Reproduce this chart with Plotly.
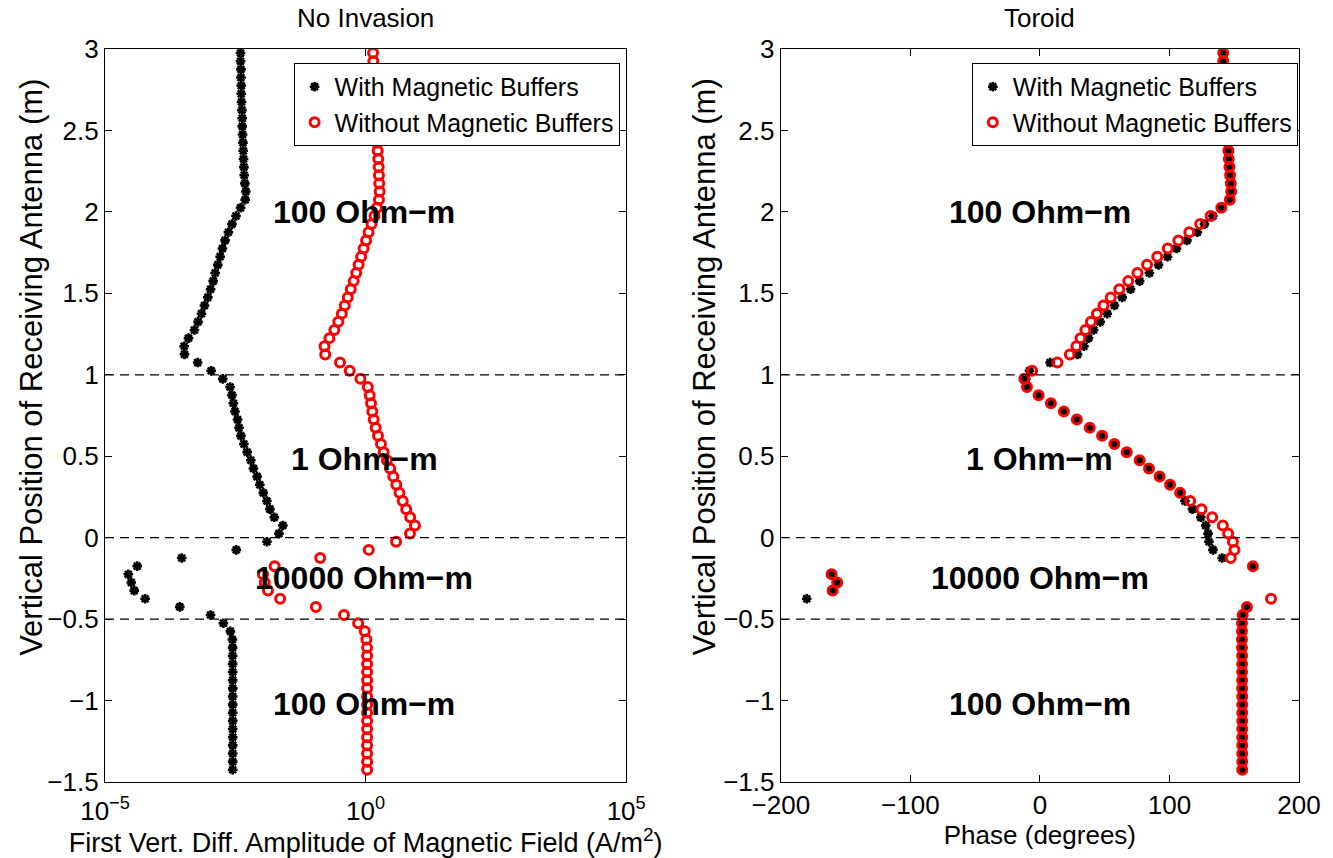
import plotly.graph_objects as go

# Receiver positions (m), top to bottom, 0.05 m sampling
depth = [2.975, 2.925, 2.875, 2.825, 2.775, 2.725, 2.675, 2.625, 2.575, 2.525,
         2.475, 2.425, 2.375, 2.325, 2.275, 2.225, 2.175, 2.125, 2.075, 2.025,
         1.975, 1.925, 1.875, 1.825, 1.775, 1.725, 1.675, 1.625, 1.575, 1.525,
         1.475, 1.425, 1.375, 1.325, 1.275, 1.225, 1.175, 1.125, 1.075, 1.025,
         0.975, 0.925, 0.875, 0.825, 0.775, 0.725, 0.675, 0.625, 0.575, 0.525,
         0.475, 0.425, 0.375, 0.325, 0.275, 0.225, 0.175, 0.125, 0.075, 0.025,
         -0.025, -0.075, -0.125, -0.175, -0.225, -0.275, -0.325, -0.375, -0.425, -0.475,
         -0.525, -0.575, -0.625, -0.675, -0.725, -0.775, -0.825, -0.875, -0.925, -0.975,
         -1.025, -1.075, -1.125, -1.175, -1.225, -1.275, -1.325, -1.375, -1.425]

# First vertical difference amplitude (A/m^2)
amp_with = [3.99e-3, 3.99e-3, 4.06e-3, 4.06e-3, 4.11e-3, 4.11e-3, 4.17e-3, 4.24e-3, 4.30e-3, 4.30e-3,
            4.36e-3, 4.43e-3, 4.49e-3, 4.55e-3, 4.62e-3, 4.69e-3, 4.83e-3, 5.05e-3, 4.90e-3, 3.99e-3,
            3.26e-3, 2.73e-3, 2.33e-3, 2.01e-3, 1.79e-3, 1.62e-3, 1.46e-3, 1.30e-3, 1.19e-3, 1.06e-3,
            9.4e-4, 8.1e-4, 7.1e-4, 6.1e-4, 5.2e-4, 4.0e-4, 3.3e-4, 3.35e-4, 6.0e-4, 1.09e-3,
            1.82e-3, 2.51e-3, 2.73e-3, 2.90e-3, 3.12e-3, 3.50e-3, 3.72e-3, 4.06e-3, 4.62e-3, 5.35e-3,
            6.28e-3, 7.05e-3, 8.28e-3, 9.33e-3, 1.09e-2, 1.28e-2, 1.46e-2, 1.77e-2, 2.59e-2, 2.17e-2,
            1.28e-2, 3.30e-3, 2.97e-4, 4.15e-5, 2.80e-5, 3.19e-5, 3.64e-5, 5.89e-5, 2.72e-4, 1.06e-3,
            1.87e-3, 2.54e-3, 2.78e-3, 2.81e-3, 2.81e-3, 2.81e-3, 2.82e-3, 2.82e-3, 2.82e-3, 2.82e-3,
            2.82e-3, 2.82e-3, 2.82e-3, 2.82e-3, 2.82e-3, 2.82e-3, 2.82e-3, 2.82e-3, 2.82e-3]

amp_without = [1.389, 1.407, 1.432, 1.451, 1.476, 1.503, 1.522, 1.542, 1.563, 1.584,
               1.605, 1.654, 1.706, 1.751, 1.782, 1.805, 1.829, 1.862, 1.805, 1.654,
               1.483, 1.300, 1.140, 1.022, 0.916, 0.821, 0.736, 0.660, 0.591, 0.519,
               0.455, 0.399, 0.350, 0.300, 0.252, 0.202, 0.163, 0.168, 0.323, 0.496,
               0.796, 1.101, 1.202, 1.272, 1.347, 1.432, 1.563, 1.729, 1.971, 2.218,
               2.563, 2.961, 3.406, 3.882, 4.467, 5.16, 6.02, 7.17, 8.85, 7.11,
               3.85, 1.150, 0.1346, 0.01798, 0.01077, 0.01161, 0.01340, 0.02297, 0.1111, 0.385,
               0.720, 0.966, 1.035, 1.068, 1.068, 1.068, 1.068, 1.068, 1.068, 1.068,
               1.068, 1.068, 1.068, 1.068, 1.068, 1.068, 1.068, 1.068, 1.068]

# Toroid phase (degrees)
phase_with = [141.5, 141.5, 141.8, 142.2, 142.6, 143.0, 143.4, 143.8, 144.2, 144.6,
              145.0, 145.3, 145.5, 145.8, 146.3, 146.8, 147.3, 147.6, 146.6, 140.0,
              133.5, 127.0, 121.5, 113.5, 105.5, 98.5, 91.5, 84.5, 77.0, 70.0,
              63.5, 57.5, 52.0, 46.5, 41.5, 37.5, 34.0, 29.0, 7.9, -8.0,
              -11.0, -10.0, -1.0, 8.5, 18.5, 28.5, 38.5, 48.0, 57.5, 67.0,
              77.0, 84.2, 92.4, 100.5, 108.2, 112.0, 117.8, 124.2, 128.0, 129.8,
              130.5, 133.6, 140.7, 164.4, -160.8, -156.5, -160.0, -180.0, 159.8, 156.5,
              156.0, 156.0, 156.0, 156.0, 156.1, 156.1, 156.1, 156.1, 156.1, 156.2,
              156.2, 156.2, 156.2, 156.2, 156.2, 156.2, 156.2, 156.2, 156.2]

phase_without = [141.5, 141.5, 141.8, 142.2, 142.6, 143.0, 143.4, 143.8, 144.2, 144.6,
                 145.0, 145.3, 145.5, 145.8, 146.3, 146.8, 147.3, 147.6, 146.6, 140.0,
                 131.8, 123.7, 115.3, 106.9, 98.7, 90.6, 82.7, 75.3, 68.2, 61.3,
                 54.7, 49.1, 44.0, 39.4, 35.1, 31.3, 28.2, 23.1, 13.5, -6.0,
                 -12.0, -10.0, -1.0, 8.5, 18.5, 28.5, 38.5, 48.0, 57.5, 67.0,
                 77.0, 84.2, 92.4, 100.5, 108.2, 116.0, 124.7, 133.0, 141.2, 145.3,
                 149.0, 150.2, 147.3, 164.4, -160.8, -156.5, -160.0, 178.4, 159.8, 156.5,
                 156.0, 156.0, 156.0, 156.0, 156.1, 156.1, 156.1, 156.1, 156.1, 156.2,
                 156.2, 156.2, 156.2, 156.2, 156.2, 156.2, 156.2, 156.2, 156.2]

boundaries = [1.0, 0.0, -0.5]
layer_labels = ["100 Ohm\u2212m", "1 Ohm\u2212m", "10000 Ohm\u2212m", "100 Ohm\u2212m"]
layer_label_y = [2.0, 0.485, -0.25, -1.02]

y_ticks = [-1.5, -1, -0.5, 0, 0.5, 1, 1.5, 2, 2.5, 3]
amp_ticks = [1e-5, 1, 1e5]
amp_tick_text = ["10<sup>\u22125</sup>", "10<sup>0</sup>", "10<sup>5</sup>"]
phase_ticks = [-200, -100, 0, 100, 200]

FONT = "Liberation Sans, Arial, Helvetica, sans-serif"
with_marker = dict(symbol="asterisk-open", size=8, color="black",
                   line=dict(color="black", width=2.6))
without_marker = dict(symbol="circle-open", size=9, color="red",
                      line=dict(color="red", width=3))

fig = go.Figure()
fig.add_trace(go.Scatter(x=amp_with, y=depth, mode="markers", name="With Magnetic Buffers",
                         marker=with_marker, xaxis="x", yaxis="y", legend="legend"))
fig.add_trace(go.Scatter(x=amp_without, y=depth, mode="markers", name="Without Magnetic Buffers",
                         marker=without_marker, xaxis="x", yaxis="y", legend="legend"))
fig.add_trace(go.Scatter(x=phase_with, y=depth, mode="markers", name="With Magnetic Buffers",
                         marker=with_marker, xaxis="x2", yaxis="y2", legend="legend2"))
fig.add_trace(go.Scatter(x=phase_without, y=depth, mode="markers", name="Without Magnetic Buffers",
                         marker=without_marker, xaxis="x2", yaxis="y2", legend="legend2"))

TICK_FONT = dict(family=FONT, size=26, color="black")
TITLE_FONT = dict(family=FONT, size=26, color="black")

axis_common = dict(showline=True, linecolor="black", linewidth=1.2, mirror="ticks",
                   ticks="inside", ticklen=7, tickcolor="black", tickwidth=1,
                   showgrid=False, zeroline=False, tickfont=TICK_FONT)

shapes = []
for xr in ["x domain", "x2 domain"]:
    yr = "y" if xr == "x domain" else "y2"
    for b in boundaries:
        shapes.append(dict(type="line", xref=xr, yref=yr, x0=0, x1=1, y0=b, y1=b,
                           line=dict(color="black", width=1.3, dash="9px,6px")))

annotations = []
for txt, yy in zip(layer_labels, layer_label_y):
    annotations.append(dict(text=txt, x=-0.03, y=yy, xref="x", yref="y", showarrow=False,
                            font=dict(family=FONT, size=32, color="black", weight="bold")))
    annotations.append(dict(text=txt, x=0, y=yy, xref="x2", yref="y2", showarrow=False,
                            font=dict(family=FONT, size=32, color="black", weight="bold")))
for txt, xc in [("No Invasion", 0.2183), ("Toroid", 0.783)]:
    annotations.append(dict(text=txt, x=xc, y=1.042, xref="paper", yref="paper",
                            showarrow=False, xanchor="center", yanchor="middle",
                            font=TITLE_FONT))
# vertical axis titles
for xc in [-0.0622, 0.502]:
    annotations.append(dict(text="Vertical Position of Receiving Antenna (m)", x=xc, y=0.566,
                            xref="paper", yref="paper", showarrow=False, textangle=-90,
                            xanchor="center", yanchor="middle",
                            font=dict(family=FONT, size=31, color="black")))

legend_common = dict(yanchor="top", xanchor="right", y=0.981, bgcolor="white",
                     bordercolor="black", borderwidth=1,
                     font=dict(family=FONT, size=25, color="black"),
                     tracegroupgap=0, itemwidth=30)

fig.update_layout(
    width=1333, height=858,
    margin=dict(l=105, r=23, t=49, b=76),
    paper_bgcolor="white", plot_bgcolor="white",
    font=dict(family=FONT, size=26, color="black"),
    xaxis=dict(domain=[0, 0.4365], type="log", range=[-5, 5], tickmode="array",
               tickvals=amp_ticks, ticktext=amp_tick_text, anchor="y",
               ticklabelstandoff=6,
               title=dict(text="First Vert. Diff. Amplitude of Magnetic Field (A/m<sup>2</sup>)",
                          font=dict(family=FONT, size=27, color="black"), standoff=0),
               **axis_common),
    yaxis=dict(domain=[0, 1], range=[-1.5, 3], tickmode="array", tickvals=y_ticks,
               anchor="x", **axis_common),
    xaxis2=dict(domain=[0.566, 1], range=[-200, 200], tickmode="array",
                tickvals=phase_ticks, anchor="y2",
                title=dict(text="Phase (degrees)", font=TITLE_FONT, standoff=0),
                **axis_common),
    yaxis2=dict(domain=[0, 1], range=[-1.5, 3], tickmode="array", tickvals=y_ticks,
                anchor="x2", **axis_common),
    legend=dict(x=0.431, **legend_common),
    legend2=dict(x=0.999, **legend_common),
    shapes=shapes,
    annotations=annotations,
)

fig.write_html("out.html")
